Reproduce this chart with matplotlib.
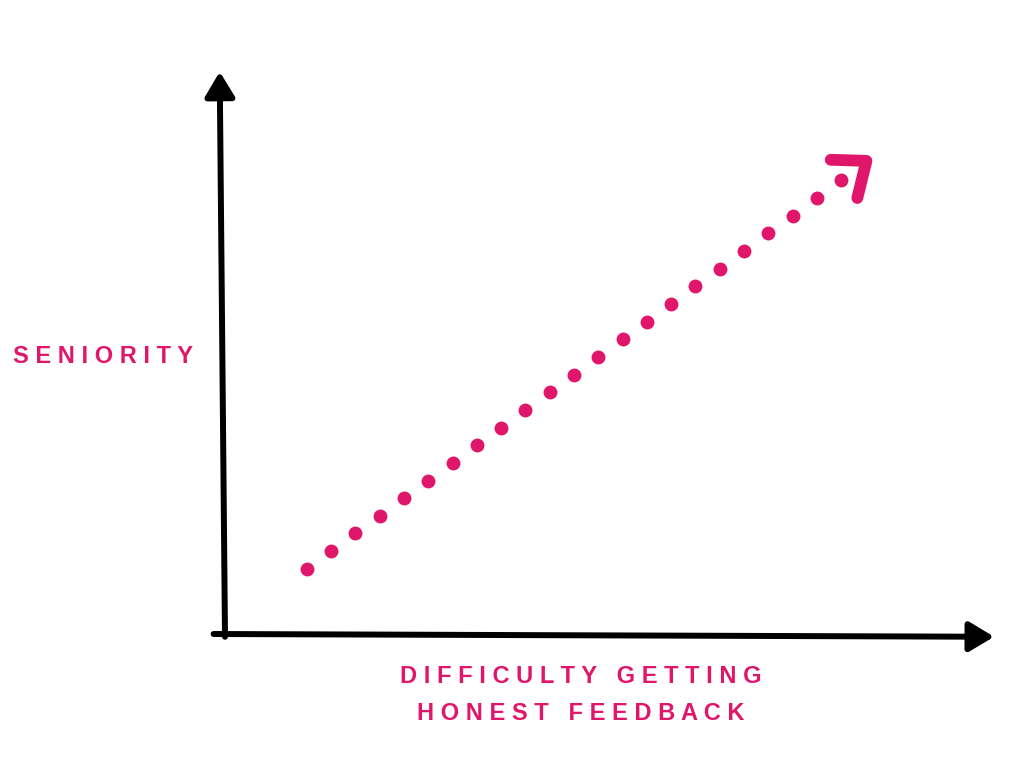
import matplotlib.pyplot as plt

# Data (difficulty vs seniority, 0-100 scale)
difficulty = [10.8, 13.9, 17.1, 20.4, 23.6, 26.7, 30.0, 33.2, 36.3, 39.5, 42.8, 45.9,
              49.1, 52.4, 55.5, 58.7, 61.8, 65.1, 68.3, 71.4, 74.7, 77.9, 81.1]
seniority = [11.7, 15.0, 18.2, 21.3, 24.5, 27.6, 30.9, 34.1, 37.2, 40.4, 43.7, 46.8,
             50.0, 53.2, 56.3, 59.6, 62.8, 65.9, 69.1, 72.4, 75.5, 78.7, 81.9]
head_x = [79.7, 84.4, 83.2]
head_y = [85.6, 85.4, 78.7]

x_label = "DIFFICULTY GETTING\nHONEST FEEDBACK"
y_label = "SENIORITY"

pink = "#E0166B"

def spaced(s):
    return "\n".join("   ".join(" ".join(w) for w in line.split(" ")) for line in s.split("\n"))

fig = plt.figure(figsize=(10.24, 7.68), dpi=100)
ax = fig.add_axes([225 / 1024, 1 - 634 / 768, 760 / 1024, 554 / 768])
ax.set_xlim(0, 100)
ax.set_ylim(0, 100)
ax.axis("off")

# axes arrows
arrow = dict(arrowstyle="-|>,head_length=1.0,head_width=0.6", mutation_scale=15,
             lw=4.3, color="black", capstyle="round", joinstyle="round", shrinkA=0, shrinkB=0)
ax.annotate("", xy=(-0.7, 101.5), xytext=(0, -0.5), xycoords="data", arrowprops=arrow,
            annotation_clip=False)
ax.annotate("", xy=(101.2, -0.5), xytext=(-1.5, 0), xycoords="data", arrowprops=arrow,
            annotation_clip=False)

# dotted trend
ax.plot(difficulty, seniority, "o", color=pink, ms=10, mec="none", clip_on=False)
ax.plot(head_x, head_y, color=pink, lw=8.5, solid_capstyle="round",
        solid_joinstyle="round", clip_on=False)

fig.text(103 / 1024, 1 - 356 / 768, spaced(y_label), color=pink, fontsize=17,
         fontweight="bold", family="Liberation Sans", ha="center", va="center")
fig.text(581 / 1024, 1 - 695 / 768, spaced(x_label), color=pink, fontsize=17,
         fontweight="bold", family="Liberation Sans", ha="center", va="center",
         linespacing=1.8)

plt.savefig("out.png", dpi=100)
